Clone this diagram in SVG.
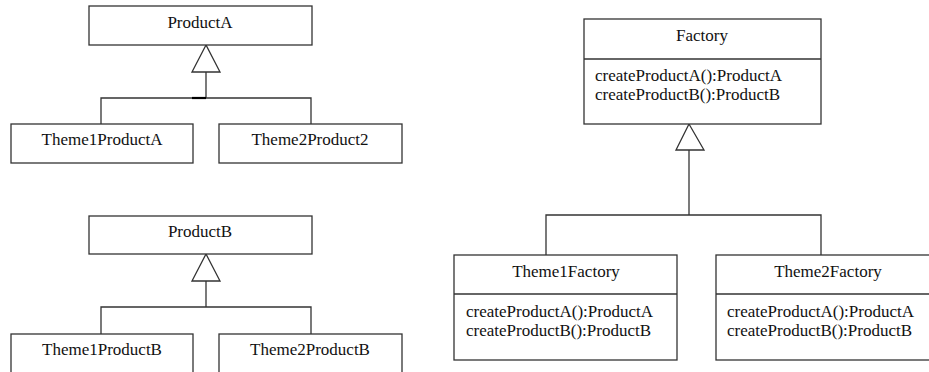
<svg xmlns="http://www.w3.org/2000/svg" width="929" height="372" viewBox="0 0 929 372" font-family="'Liberation Serif', 'Times New Roman', serif">
<style>
.box{fill:#fff;stroke:#333;stroke-width:1.3}
.ln{fill:none;stroke:#333;stroke-width:1.3}
.tri{fill:#fff;stroke:#333;stroke-width:1.3}
.t{font-family:'Liberation Serif','Times New Roman',serif;font-size:17px;fill:#111}
.c{text-anchor:middle}
</style>
<rect width="929" height="372" fill="#fff"/>
<g id="connectors">
<polyline class="ln" points="206,72 206,98"/>
<polyline class="ln" points="101,124 101,98 311,98 311,124"/>
<line x1="192" y1="98" x2="206" y2="98" stroke="#000" stroke-width="2.2"/>
<polygon class="tri" points="206,45 192,72 220,72"/>
<polyline class="ln" points="206,281 206,307"/>
<polyline class="ln" points="101,334 101,307 311,307 311,334"/>
<polygon class="tri" points="206,254 192,281 220,281"/>
<polyline class="ln" points="689,150 689,215"/>
<polyline class="ln" points="546,255 546,215 821,215 821,255"/>
<polygon class="tri" points="689,124 676,150 704,150"/>
</g>
<g id="ProductA">
<rect class="box" x="89" y="6" width="223" height="39"/>
<text class="t c" x="200" y="28">ProductA</text>
</g>
<g id="Theme1ProductA">
<rect class="box" x="11" y="124" width="182" height="39"/>
<text class="t c" x="102" y="145">Theme1ProductA</text>
</g>
<g id="Theme2Product2">
<rect class="box" x="219" y="124" width="183" height="39"/>
<text class="t c" x="310" y="145">Theme2Product2</text>
</g>
<g id="ProductB">
<rect class="box" x="89" y="216" width="223" height="38"/>
<text class="t c" x="200" y="237">ProductB</text>
</g>
<g id="Theme1ProductB">
<rect class="box" x="11" y="334" width="182" height="50"/>
<text class="t c" x="102" y="355">Theme1ProductB</text>
</g>
<g id="Theme2ProductB">
<rect class="box" x="219" y="334" width="183" height="50"/>
<text class="t c" x="310" y="355">Theme2ProductB</text>
</g>
<g id="Factory">
<rect class="box" x="584" y="19" width="237" height="105"/>
<line class="ln" x1="584" y1="59" x2="821" y2="59"/>
<text class="t c" x="702" y="41">Factory</text>
<text class="t" x="595" y="81">createProductA():ProductA</text>
<text class="t" x="595" y="100">createProductB():ProductB</text>
</g>
<g id="Theme1Factory">
<rect class="box" x="454" y="255" width="223" height="105"/>
<line class="ln" x1="454" y1="294" x2="677" y2="294"/>
<text class="t c" x="566" y="277">Theme1Factory</text>
<text class="t" x="466" y="317">createProductA():ProductA</text>
<text class="t" x="466" y="336">createProductB():ProductB</text>
</g>
<g id="Theme2Factory">
<rect class="box" x="716" y="255" width="230" height="105"/>
<line class="ln" x1="716" y1="294" x2="946" y2="294"/>
<text class="t c" x="828" y="277">Theme2Factory</text>
<text class="t" x="727" y="317">createProductA():ProductA</text>
<text class="t" x="727" y="336">createProductB():ProductB</text>
</g>
</svg>
